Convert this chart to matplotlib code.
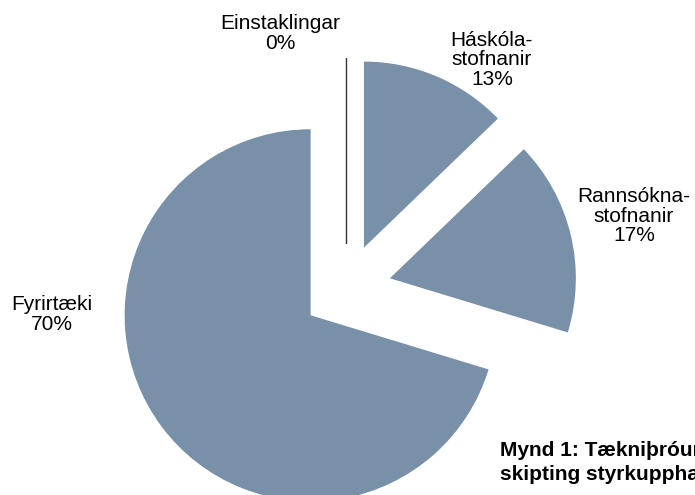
import matplotlib.pyplot as plt

plt.rcParams['font.family'] = ['Liberation Sans', 'DejaVu Sans']

# share of grants by recipient type (%), clockwise from 12 o'clock
recipients = ['Einstaklingar', 'Háskóla-\nstofnanir', 'Rannsókna-\nstofnanir', 'Fyrirtæki']
shares = [0.0, 12.8, 16.9, 70.3]
label_pos = [(-0.355, 1.37), (0.782, 1.23), (1.546, 0.39), (-1.584, -0.14)]

slice_color = '#7990A9'

fig = plt.figure(figsize=(6.95, 4.95), dpi=100)
ax = fig.add_axes([0, 0, 1, 1])

wedges, _ = ax.pie(shares, startangle=90, counterclock=False,
                   colors=[slice_color] * len(shares), radius=1.0,
                   explode=[0.24] * len(shares))

# the 0% slice shows up only as a thin line
wedges[0].set_edgecolor('#333333')
wedges[0].set_linewidth(1.0)

for name, val, (x, y) in zip(recipients, shares, label_pos):
    ax.text(x, y, f'{name}\n{val:.0f}%', ha='center', va='center',
            fontsize=15, linespacing=1.05, color='black')

ax.set_xlim(-1.863, 1.874)
ax.set_ylim(-1.109, 1.552)
ax.set_aspect('auto')
ax.axis('off')

fig.text(500 / 695, 1 - 456 / 495, 'Mynd 1: Tækniþróunarsjóður,', fontsize=15,
         fontweight='bold', va='baseline', ha='left')
fig.text(500 / 695, 1 - 480 / 495, 'skipting styrkupphæða', fontsize=15,
         fontweight='bold', va='baseline', ha='left')

fig.savefig('out.png', dpi=100)
